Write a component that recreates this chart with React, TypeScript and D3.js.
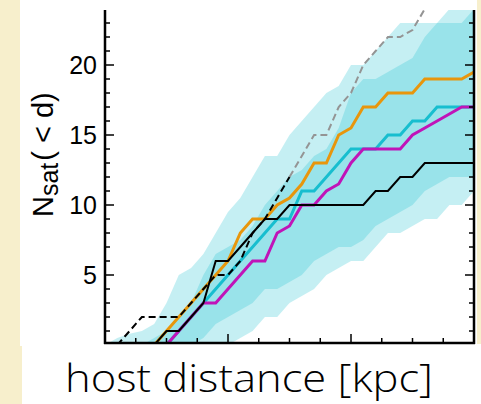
import React from "react";
import * as d3 from "d3";

const dist = d3.range(0, 301, 10);

const orange = [0,0,0,0,0,1,2,3,4,5,6,8,9,9,10,10.5,11.5,13,13,15,15.5,17,17,18,18,18,19,19,19,19,19.5];
const cyan = [0,0,0,0,0,0,1,2,3,4,5,6,7,8,9,9,11,11,12,13,14,14,14,15,15,16,16,17,17,17,17];
const magenta = [0,0,0,0,0,0,1,2,3,3,4,5,6,6,8,8.5,10,10,11,11.5,13,14,14,14,14,15,15.5,16,16.5,17,17];
const blackSolid = [0,0,0,0,0,1,1,2,3,6,6,7,8,9,9,10,10,10,10,10,10,10,11,11,12,12,13,13,13,13,13];
const dashDist = d3.range(10, 151, 10);
const blackDashed = [0,1,2,2,2,2,3,4,5,5,6,8,9,10.5,12];
const greyDist = d3.range(150, 301, 10);
const greyDashed = [12,13.5,15,15,17,18,20,21,22,22,22.5,24,25,26,27,28];

const outerUpper = [0,0.5,0.8,1,1.5,3,5,5.5,6.5,8,9.5,10.5,12,13.5,13.5,15,16,17,18,18.5,20,20,21,22,23,23,23,23,24,25,25];
const outerLower = [0,0,0,0,0,0,0,0,0,0,0,0.5,1,2,2,3,3.5,4,5,5.5,6,6,7,8,8,8.5,9,9,10,10,11];
const innerUpper = [0,0,0,0,0.5,1,2,3,5,6.5,7,7.5,8.5,10,11,12,12.5,13.5,14,15.5,18,19,19,19.5,20,20.5,22,23,23,23,24];
const innerLower = [0,0,0,0,0,0,0,0,0.5,1.5,2,2.5,3,4,4,4.5,5,6,6.5,7,7,7.5,8.5,9,9.5,10,11,11.5,12,12,12];

const yTickLabels = ["5", "10", "15", "20"];
const xLabel = "host distance [kpc]";

export default function App() {
  const W = 481, H = 404;
  const left = 105, right = 474, bottom = 343, top = 10;
  const x = d3.scaleLinear().domain([0, 300]).range([left, right]);
  const y = d3.scaleLinear().domain([0, 24]).range([345, 9]);

  const lineGen = (xs: number[], ys: number[]) =>
    d3.line<number>().x((_, i) => x(xs[i])).y((v) => y(v))(ys) || "";
  const areaGen = (lo: number[], hi: number[]) =>
    d3.area<number>().x((_, i) => x(dist[i])).y0((_, i) => y(lo[i])).y1((v) => y(v))(hi) || "";

  const font = "'Liberation Sans', Arial, Helvetica, sans-serif";
  const minorY = d3.range(1, 24);
  const majorY = yTickLabels.map(Number);
  const minorX = d3.range(25, 300, 25);
  const majorX = [100, 200];

  return (
    <svg width={W} height={H} style={{ position: "absolute", left: 0, top: 0 }}>
      <defs>
        <clipPath id="plotclip">
          <rect x={left} y={top} width={right - left} height={bottom - top} />
        </clipPath>
      </defs>
      <rect x={0} y={0} width={W} height={H} fill="#f7efcc" />
      <rect x={20} y={0} width={457} height={346} fill="#ffffff" />
      <rect x={22} y={344} width={W - 22} height={H - 344} fill="#ffffff" />

      <g clipPath="url(#plotclip)">
        <path d={areaGen(outerLower, outerUpper)} fill="#17becf" fillOpacity={0.25} />
        <path d={areaGen(innerLower, innerUpper)} fill="#17becf" fillOpacity={0.25} />
        <path d={lineGen(dist, cyan)} fill="none" stroke="#17becf" strokeWidth={3} />
        <path d={lineGen(dist, orange)} fill="none" stroke="#e8960c" strokeWidth={3} />
        <path d={lineGen(dist, magenta)} fill="none" stroke="#c014b8" strokeWidth={3} />
        <path d={lineGen(dist, blackSolid)} fill="none" stroke="#000" strokeWidth={2} />
        <path d={lineGen(greyDist, greyDashed)} fill="none" stroke="#949494" strokeWidth={2} strokeDasharray="7,4" />
        <path d={lineGen(dashDist, blackDashed)} fill="none" stroke="#000" strokeWidth={2} strokeDasharray="7,4" />
      </g>

      <g stroke="#000" strokeWidth={1.5}>
        {minorY.map((v) => {
          const big = majorY.includes(v);
          const len = big ? 9 : 5;
          return (
            <g key={"y" + v}>
              <line x1={left} x2={left + len} y1={y(v)} y2={y(v)} />
              <line x1={right} x2={right - len} y1={y(v)} y2={y(v)} />
            </g>
          );
        })}
        {minorX.map((v) => {
          const big = majorX.includes(v);
          const len = big ? 9 : 5;
          return <line key={"x" + v} x1={x(v)} x2={x(v)} y1={bottom} y2={bottom - len} />;
        })}
      </g>
      <g stroke="#000" strokeWidth={2.5} fill="none">
        <line x1={left} x2={left} y1={top} y2={bottom + 1} />
        <line x1={right} x2={right} y1={top} y2={bottom + 1} />
        <line x1={left - 1} x2={right + 1} y1={bottom} y2={bottom} />
      </g>

      {yTickLabels.map((t) => (
        <text key={t} x={97} y={y(Number(t))} dy="0.36em" textAnchor="end" fontSize={25} fontFamily={font} fill="#000">
          {t}
        </text>
      ))}

      <text transform="translate(53,217) rotate(-90)" textAnchor="start" fontSize={29} fontFamily={font} fill="#000">
        <tspan>N</tspan>
        <tspan fontSize={25} dy={5}>sat</tspan>
        <tspan dy={-5} dx={2}>(</tspan>
        <tspan dx={8}>&lt;</tspan>
        <tspan dx={8}>d)</tspan>
      </text>

      <text x={65} y={392} textAnchor="start" fontSize={39} fontFamily="'Open Sans', 'Liberation Sans', sans-serif" fontWeight={300} textLength={368} lengthAdjust="spacingAndGlyphs" fill="#000">
        {xLabel}
      </text>
    </svg>
  );
}
